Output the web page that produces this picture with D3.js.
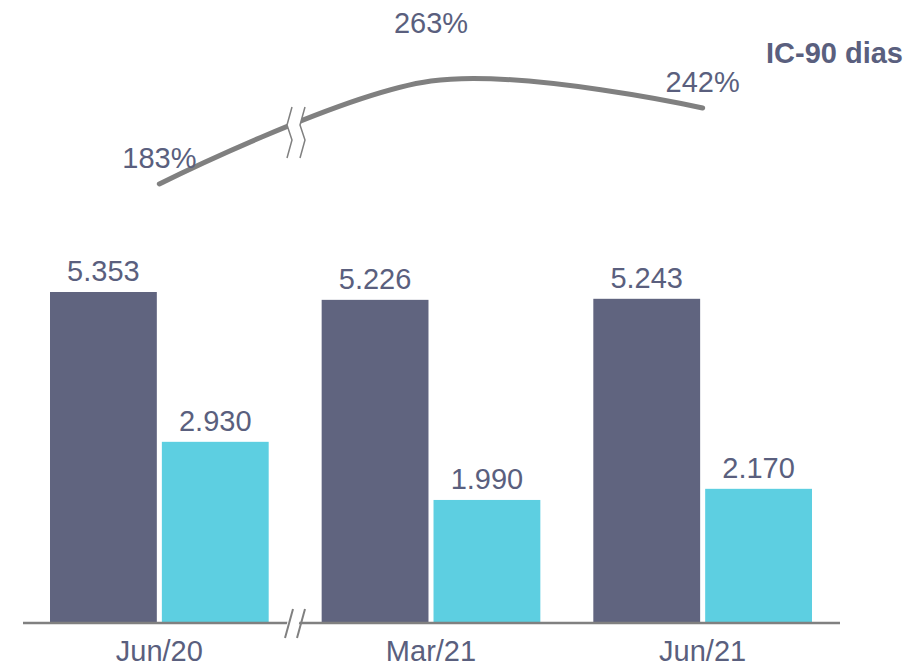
<!DOCTYPE html>
<meta charset="utf-8">
<head>
    <title>IC-90 dias</title>
    <style>
        body { margin: 0; background: #fff; }
        text { font-family: "Liberation Sans", Arial, sans-serif; }
    </style>
</head>
<body>
<svg width="911" height="671"></svg>
<script src="https://cdn.jsdelivr.net/npm/d3@7"></script>
<script>

    // chart data
    var categories = ["Jun/20", "Mar/21", "Jun/21"];
    var seriesDark = [5353, 5226, 5243];
    var seriesCyan = [2930, 1990, 2170];
    var icValues = [183, 263, 242];
    var barLabels = [["5.353", "2.930"], ["5.226", "1.990"], ["5.243", "2.170"]];

    var svg = d3.select("svg");
    var textColor = "#5a5f7e";
    var lineColor = "#808080";

    var baseY = 623;

    //outer band for each period
    var x = d3.scaleBand()
            .domain(categories)
            .range([50, 812])
            .paddingInner(0.195)
            .paddingOuter(0);

    //inner band for the two bars
    var xSub = d3.scaleBand()
            .domain([0, 1])
            .range([0, x.bandwidth()])
            .paddingInner(0.045);

    var y = d3.scaleLinear()
            .domain([0, 5353])
            .range([baseY, 292]);

    var yLine = d3.scaleLinear()
            .domain([183, 242])
            .range([184, 108]);

    var colors = ["#60647f", "#5dcfe1"];

    var groups = svg.append("g").selectAll("g")
            .data(categories)
            .enter().append("g")
            .attr("transform", function(d) { return "translate(" + x(d) + ",0)"; });

    groups.each(function(cat, i) {
        var g = d3.select(this);
        var vals = [seriesDark[i], seriesCyan[i]];
        vals.forEach(function(v, j) {
            g.append("rect")
                    .attr("x", xSub(j))
                    .attr("y", y(v))
                    .attr("width", xSub.bandwidth())
                    .attr("height", baseY - y(v))
                    .attr("fill", colors[j]);
            g.append("text")
                    .attr("x", xSub(j) + xSub.bandwidth() / 2)
                    .attr("y", y(v) - 11)
                    .attr("text-anchor", "middle")
                    .attr("font-size", "29px")
                    .attr("fill", textColor)
                    .text(barLabels[i][j]);
        });
    });

    //baseline
    svg.append("line")
            .attr("x1", 23).attr("x2", 840)
            .attr("y1", baseY).attr("y2", baseY)
            .attr("stroke", lineColor)
            .attr("stroke-width", 2.5);

    //axis break
    svg.append("polygon")
            .attr("points", "290,609 302,609 296,638 284,638")
            .attr("fill", "#fff");
    [[293, 285], [305, 297]].forEach(function(p) {
        svg.append("line")
                .attr("x1", p[0]).attr("y1", 609)
                .attr("x2", p[1]).attr("y2", 638)
                .attr("stroke", lineColor)
                .attr("stroke-width", 2);
    });

    //category labels
    svg.append("g").selectAll("text")
            .data(categories)
            .enter().append("text")
            .attr("x", function(d) { return x(d) + x.bandwidth() / 2; })
            .attr("y", 661)
            .attr("text-anchor", "middle")
            .attr("font-size", "29px")
            .attr("fill", textColor)
            .text(function(d) { return d; });

    //IC-90 line
    var pts = icValues.map(function(v, i) {
        return [x(categories[i]) + x.bandwidth() / 2, yLine(v)];
    });

    var line = d3.line().curve(d3.curveCardinal.tension(0));

    svg.append("path")
            .attr("d", line(pts))
            .attr("fill", "none")
            .attr("stroke", lineColor)
            .attr("stroke-width", 5)
            .attr("stroke-linecap", "round");

    //line break marks
    svg.append("path")
            .attr("d", "M292,107 L287,125 L292,140 L287,158 L300,158 L305,140 L300,125 L305,107 Z")
            .attr("fill", "#fff");
    [0, 13].forEach(function(dx) {
        svg.append("path")
                .attr("d", "M" + (292 + dx) + ",107 L" + (287 + dx) + ",125 L" + (292 + dx) + ",140 L" + (287 + dx) + ",158")
                .attr("fill", "none")
                .attr("stroke", lineColor)
                .attr("stroke-width", 1.5);
    });

    //percent labels
    var labelDy = [-16, -48, -16];
    svg.append("g").selectAll("text")
            .data(icValues)
            .enter().append("text")
            .attr("x", function(d, i) { return pts[i][0]; })
            .attr("y", function(d, i) { return pts[i][1] + labelDy[i]; })
            .attr("text-anchor", "middle")
            .attr("font-size", "29px")
            .attr("fill", textColor)
            .text(function(d) { return d + "%"; });

    svg.append("text")
            .attr("x", 766)
            .attr("y", 63)
            .attr("font-size", "29px")
            .attr("font-weight", "bold")
            .attr("fill", textColor)
            .text("IC-90 dias");

</script>
</body>
